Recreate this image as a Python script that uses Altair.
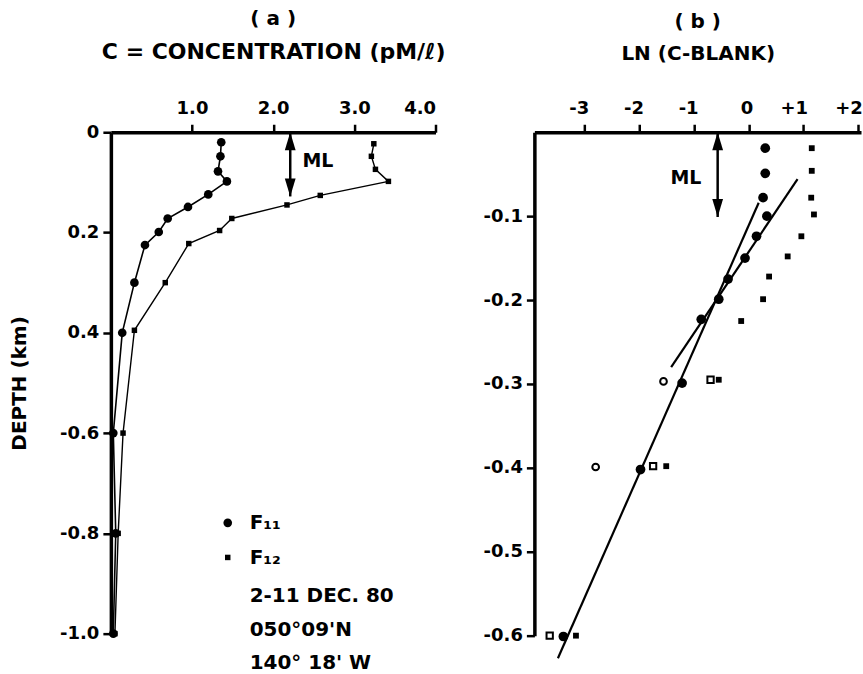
import altair as alt
import pandas as pd

FONT = "DejaVu Sans"

# ---------- panel (a): concentration profiles ----------
f11_c = [1.36, 1.35, 1.32, 1.43, 1.20, 0.95, 0.70, 0.59, 0.42, 0.29, 0.14, 0.03, 0.06, 0.03]
f11_d = [0.020, 0.048, 0.078, 0.098, 0.124, 0.149, 0.172, 0.199, 0.225, 0.300, 0.400, 0.600, 0.800, 1.000]
f12_c = [3.24, 3.21, 3.26, 3.42, 2.58, 2.17, 1.49, 1.34, 0.96, 0.67, 0.29, 0.15, 0.09, 0.05]
f12_d = [0.023, 0.048, 0.074, 0.098, 0.126, 0.145, 0.172, 0.196, 0.222, 0.300, 0.395, 0.600, 0.800, 1.000]

a_x_ticks = [1, 2, 3, 4]
a_y_ticks = [0, 0.2, 0.4, 0.6, 0.8, 1.0]

a_ml_c = [2.21]
a_ml_top = [0.0]
a_ml_bot = [0.128]
a_ml_text_c = [2.36]
a_ml_text_d = [0.058]

leg_sym_c = [1.44, 1.44]
leg_sym_d = [0.779, 0.848]
leg_text_c = [1.71, 1.71, 1.71, 1.71, 1.71]
leg_text_d = [0.779, 0.849, 0.924, 0.992, 1.058]
leg_text = ["F₁₁", "F₁₂", "2-11 DEC. 80", "050°09'N", "140° 18' W"]

# ---------- panel (b): ln(C - blank) ----------
b_f11_v = [0.30, 0.30, 0.26, 0.33, 0.14, -0.07, -0.38, -0.55, -0.87, -1.22, -1.98, -3.39]
b_f11_d = [-0.019, -0.049, -0.078, -0.100, -0.124, -0.150, -0.175, -0.199, -0.223, -0.299, -0.402, -0.601]
b_f12_v = [1.15, 1.15, 1.14, 1.19, 0.96, 0.71, 0.37, 0.26, -0.14, -0.55, -1.51, -3.16]
b_f12_d = [-0.019, -0.046, -0.078, -0.098, -0.124, -0.148, -0.172, -0.199, -0.225, -0.295, -0.398, -0.600]
b_open_c_v = [-1.56, -2.80]
b_open_c_d = [-0.297, -0.399]
b_open_s_v = [-0.70, -1.75, -3.64]
b_open_s_d = [-0.295, -0.398, -0.600]

fit_v1 = [0.18, 0.89]
fit_d1 = [-0.084, -0.056]
fit_v2 = [-3.49, -1.42]
fit_d2 = [-0.627, -0.280]

b_x_ticks = [-3, -2, -1, 0, 1, 2]
b_y_ticks = [-0.1, -0.2, -0.3, -0.4, -0.5, -0.6]

b_ml_v = [-0.57]
b_ml_top = [0.0]
b_ml_bot = [-0.101]
b_ml_text_v = [-1.15]
b_ml_text_d = [-0.055]

ARROW_UP = "M0,-1L0.6,1L-0.6,1Z"
ARROW_DOWN = "M0,1L0.6,-1L-0.6,-1Z"

# ---------- build panel (a) ----------
xa_scale = alt.Scale(domain=[0, 4], nice=False, zero=False)
ya_scale = alt.Scale(domain=[0, 1.0], reverse=True, nice=False, zero=False)

xa_axis = alt.Axis(orient="top", values=a_x_ticks, format=".1f", labelPadding=7,
                   title="C = CONCENTRATION (pM/ℓ)", titlePadding=36, titleFontSize=22)
ya_axis = alt.Axis(values=a_y_ticks, title="DEPTH (km)", titlePadding=30,
                   labelExpr="datum.value == 0 ? '0' : (datum.value < 0.5 ? format(datum.value, '.1f') : '-' + format(datum.value, '.1f'))")

df11 = pd.DataFrame({"c": f11_c, "d": f11_d})
df12 = pd.DataFrame({"c": f12_c, "d": f12_d})

base11 = alt.Chart(df11)
base12 = alt.Chart(df12)

a_line11 = base11.mark_line(color="black", strokeWidth=1.6).encode(
    x=alt.X("c:Q", scale=xa_scale, axis=xa_axis),
    y=alt.Y("d:Q", scale=ya_scale, axis=ya_axis),
    order="d:Q",
)
a_pts11 = base11.mark_circle(color="black", size=75, opacity=1).encode(
    x="c:Q", y="d:Q")
a_line12 = base12.mark_line(color="black", strokeWidth=1.4).encode(
    x="c:Q", y="d:Q", order="d:Q")
a_pts12 = base12.mark_square(color="black", size=30, opacity=1).encode(
    x="c:Q", y="d:Q")

dml_a = pd.DataFrame({"c": a_ml_c, "d": a_ml_top, "d2": a_ml_bot})
a_ml_rule = alt.Chart(dml_a).mark_rule(color="black", strokeWidth=2.5).encode(
    x="c:Q", y="d:Q", y2="d2:Q")
a_ml_up = alt.Chart(dml_a).mark_point(shape=ARROW_UP, filled=True, color="black",
                                      size=324, opacity=1, yOffset=9).encode(x="c:Q", y="d:Q")
a_ml_down = alt.Chart(dml_a).mark_point(shape=ARROW_DOWN, filled=True, color="black",
                                        size=324, opacity=1, yOffset=-9).encode(x="c:Q", y="d2:Q")
a_ml_txt = alt.Chart(pd.DataFrame({"c": a_ml_text_c, "d": a_ml_text_d, "t": ["ML"]})).mark_text(
    align="left", baseline="middle", font=FONT, fontWeight="bold", fontSize=19, color="black"
).encode(x="c:Q", y="d:Q", text="t:N")

dleg_sym = pd.DataFrame({"c": leg_sym_c, "d": leg_sym_d})
leg_circ = alt.Chart(dleg_sym.iloc[[0]]).mark_circle(color="black", size=75, opacity=1).encode(x="c:Q", y="d:Q")
leg_sq = alt.Chart(dleg_sym.iloc[[1]]).mark_square(color="black", size=30, opacity=1).encode(x="c:Q", y="d:Q")
leg_txt = alt.Chart(pd.DataFrame({"c": leg_text_c, "d": leg_text_d, "t": leg_text})).mark_text(
    align="left", baseline="middle", font=FONT, fontWeight="bold", fontSize=20, color="black", clip=False
).encode(x="c:Q", y="d:Q", text="t:N")

panel_a = alt.layer(
    a_line11, a_pts11, a_line12, a_pts12, a_ml_rule, a_ml_up, a_ml_down, a_ml_txt,
    leg_circ, leg_sq, leg_txt
).properties(
    width=325, height=502,
    title=alt.Title("( a )", font=FONT, fontSize=20, fontWeight="bold", anchor="middle", offset=11),
)

# ---------- build panel (b) ----------
xb_scale = alt.Scale(domain=[-3.92, 2.05], nice=False, zero=False)
yb_scale = alt.Scale(domain=[-0.6, 0.0], nice=False, zero=False)

xb_axis = alt.Axis(orient="top", values=b_x_ticks, title="LN (C-BLANK)", titlePadding=36,
                   titleFontSize=20, labelPadding=7, labelAlign="right", labelOffset=4,
                   labelExpr="datum.value > 0 ? '+' + format(datum.value, 'd') : (datum.value < 0 ? '-' + format(-datum.value, 'd') : '0')")
yb_axis = alt.Axis(values=b_y_ticks, title=None,
                   labelExpr="'-' + format(-datum.value, '.1f')")

db11 = pd.DataFrame({"v": b_f11_v, "d": b_f11_d})
db12 = pd.DataFrame({"v": b_f12_v, "d": b_f12_d})
dboc = pd.DataFrame({"v": b_open_c_v, "d": b_open_c_d})
dbos = pd.DataFrame({"v": b_open_s_v, "d": b_open_s_d})
dfit = pd.DataFrame({"v": fit_v1, "d": fit_d1, "v2": fit_v2, "d2": fit_d2})

b_fit = alt.Chart(dfit).mark_rule(color="black", strokeWidth=2.2, clip=False).encode(
    x=alt.X("v:Q", scale=xb_scale, axis=xb_axis),
    y=alt.Y("d:Q", scale=yb_scale, axis=yb_axis),
    x2="v2:Q", y2="d2:Q",
)
b_pts11 = alt.Chart(db11).mark_circle(color="black", size=95, opacity=1).encode(x="v:Q", y="d:Q")
b_pts12 = alt.Chart(db12).mark_square(color="black", size=34, opacity=1).encode(x="v:Q", y="d:Q")
b_oc = alt.Chart(dboc).mark_point(shape="circle", filled=False, color="black", size=45,
                                  strokeWidth=2, opacity=1).encode(x="v:Q", y="d:Q")
b_os = alt.Chart(dbos).mark_point(shape="square", filled=False, color="black", size=40,
                                  strokeWidth=2, opacity=1).encode(x="v:Q", y="d:Q")

dml_b = pd.DataFrame({"v": b_ml_v, "d": b_ml_top, "d2": b_ml_bot})
b_ml_rule = alt.Chart(dml_b).mark_rule(color="black", strokeWidth=2.5).encode(
    x="v:Q", y="d:Q", y2="d2:Q")
b_ml_up = alt.Chart(dml_b).mark_point(shape=ARROW_UP, filled=True, color="black",
                                      size=324, opacity=1, yOffset=9).encode(x="v:Q", y="d:Q")
b_ml_down = alt.Chart(dml_b).mark_point(shape=ARROW_DOWN, filled=True, color="black",
                                        size=324, opacity=1, yOffset=-9).encode(x="v:Q", y="d2:Q")
b_ml_txt = alt.Chart(pd.DataFrame({"v": b_ml_text_v, "d": b_ml_text_d, "t": ["ML"]})).mark_text(
    align="center", baseline="middle", font=FONT, fontWeight="bold", fontSize=19, color="black"
).encode(x="v:Q", y="d:Q", text="t:N")

panel_b = alt.layer(
    b_fit, b_pts11, b_pts12, b_oc, b_os, b_ml_rule, b_ml_up, b_ml_down, b_ml_txt
).properties(
    width=327, height=504,
    title=alt.Title("( b )", font=FONT, fontSize=20, fontWeight="bold", anchor="middle", offset=11),
)

chart = alt.hconcat(panel_a, panel_b, spacing=99, bounds="flush").properties(
    padding={"left": 9, "top": 9, "right": 0, "bottom": 0}
).configure_view(stroke=None).configure_axis(
    grid=False,
    domainColor="black", domainWidth=3.5,
    tickColor="black", tickWidth=2.5, tickSize=8,
    labelColor="black", labelFont=FONT, labelFontWeight="bold", labelFontSize=18, labelPadding=4,
    titleColor="black", titleFont=FONT, titleFontWeight="bold", titleFontSize=20,
).configure_title(color="black")

chart.save("out.html", embed_options={"renderer": "svg", "actions": False})
